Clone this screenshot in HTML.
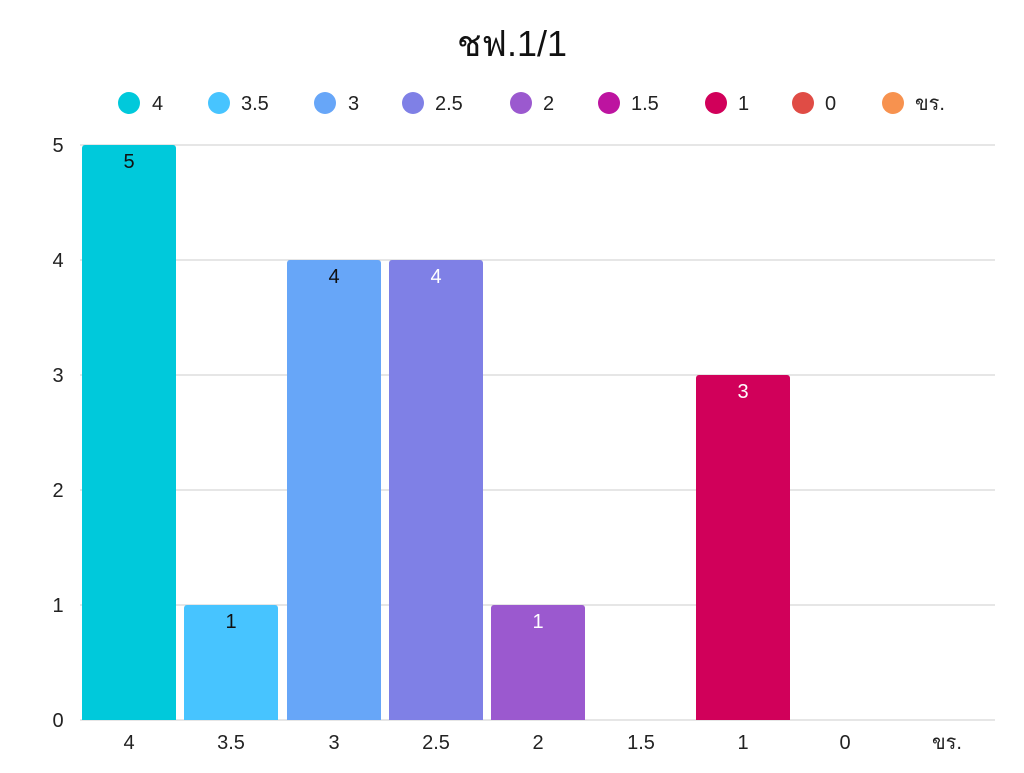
<!DOCTYPE html>
<html><head><meta charset="utf-8"><style>
body{margin:0;background:#fff;}
svg text{font-family:"Liberation Sans","Noto Sans CJK SC","DejaVu Sans",sans-serif;}
</style></head><body>
<svg width="1024" height="768" xmlns="http://www.w3.org/2000/svg">
<rect width="1024" height="768" fill="#fff"/>
<text x="512" y="56" font-size="36" text-anchor="middle" fill="#111">ชฟ.1/1</text>
<g font-size="20" fill="#222">
<circle cx="129" cy="103" r="11" fill="#00C9DB"/><text x="152" y="110">4</text>
<circle cx="219" cy="103" r="11" fill="#47C4FF"/><text x="241" y="110">3.5</text>
<circle cx="325" cy="103" r="11" fill="#67A6F8"/><text x="348" y="110">3</text>
<circle cx="413" cy="103" r="11" fill="#7F80E6"/><text x="435" y="110">2.5</text>
<circle cx="521" cy="103" r="11" fill="#9B59CF"/><text x="543" y="110">2</text>
<circle cx="609" cy="103" r="11" fill="#BD14A0"/><text x="631" y="110">1.5</text>
<circle cx="716" cy="103" r="11" fill="#D1005A"/><text x="738" y="110">1</text>
<circle cx="803" cy="103" r="11" fill="#E04C45"/><text x="825" y="110">0</text>
<circle cx="893" cy="103" r="11" fill="#F7924F"/><text x="915" y="110">ขร.</text>
</g>
<g stroke="#ccc" stroke-width="1">
<line x1="80" y1="145" x2="995" y2="145"/>
<line x1="80" y1="260" x2="995" y2="260"/>
<line x1="80" y1="375" x2="995" y2="375"/>
<line x1="80" y1="490" x2="995" y2="490"/>
<line x1="80" y1="605" x2="995" y2="605"/>
<line x1="80" y1="720" x2="995" y2="720"/>
</g>
<g font-size="20" fill="#222" text-anchor="middle">
<text x="58" y="152">5</text><text x="58" y="267">4</text><text x="58" y="382">3</text>
<text x="58" y="497">2</text><text x="58" y="612">1</text><text x="58" y="727">0</text>
<text x="129" y="749">4</text><text x="231" y="749">3.5</text><text x="334" y="749">3</text>
<text x="436" y="749">2.5</text><text x="538" y="749">2</text><text x="641" y="749">1.5</text>
<text x="743" y="749">1</text><text x="845" y="749">0</text><text x="947" y="749">ขร.</text>
</g>
<g>
<path d="M82 720V148a3 3 0 0 1 3-3H173a3 3 0 0 1 3 3V720Z" fill="#00C9DB"/>
<path d="M184 720V608a3 3 0 0 1 3-3H275a3 3 0 0 1 3 3V720Z" fill="#47C4FF"/>
<path d="M287 720V263a3 3 0 0 1 3-3H378a3 3 0 0 1 3 3V720Z" fill="#67A6F8"/>
<path d="M389 720V263a3 3 0 0 1 3-3H480a3 3 0 0 1 3 3V720Z" fill="#7F80E6"/>
<path d="M491 720V608a3 3 0 0 1 3-3H582a3 3 0 0 1 3 3V720Z" fill="#9B59CF"/>
<path d="M696 720V378a3 3 0 0 1 3-3H787a3 3 0 0 1 3 3V720Z" fill="#D1005A"/>
</g>
<g font-size="20" text-anchor="middle">
<text x="129" y="168" fill="#111">5</text>
<text x="231" y="628" fill="#111">1</text>
<text x="334" y="283" fill="#111">4</text>
<text x="436" y="283" fill="#fff">4</text>
<text x="538" y="628" fill="#fff">1</text>
<text x="743" y="398" fill="#fff">3</text>
</g>
</svg>
</body></html>
